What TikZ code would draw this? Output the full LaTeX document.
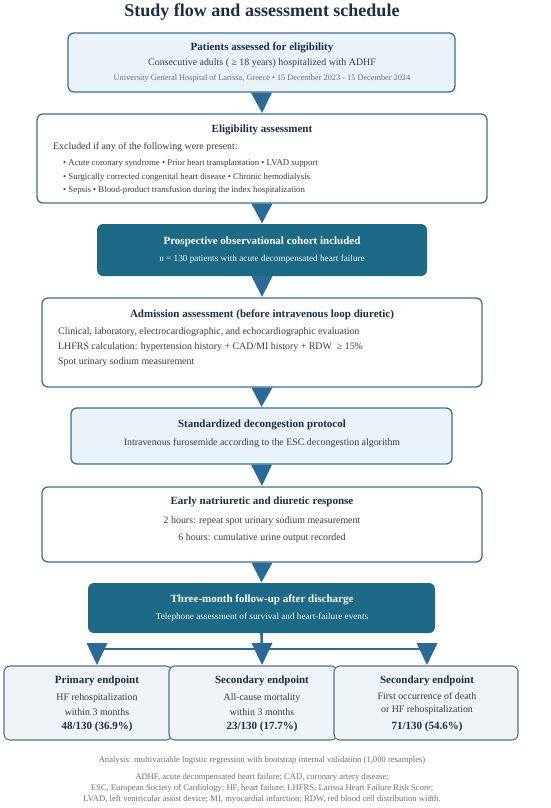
\documentclass[tikz,border=0pt]{standalone}
\usepackage{fontspec}
\setmainfont{Liberation Serif}
\usetikzlibrary{positioning,calc}

\definecolor{navy}{HTML}{1C2E45}
\definecolor{bodygray}{HTML}{3A3D42}
\definecolor{softgray}{HTML}{6A6E74}
\definecolor{edgeblue}{HTML}{3E6F94}
\definecolor{paleblue}{HTML}{EAF3FA}
\definecolor{teal}{HTML}{1D6A86}
\definecolor{tipblue}{HTML}{2B6A96}
\definecolor{endfill}{HTML}{EFF4F8}
\definecolor{endedge}{HTML}{5B7283}

\begin{document}
\begin{tikzpicture}[x=1pt,y=-1pt,
  light box/.style={draw=edgeblue,line width=1.3pt,fill=paleblue,rounded corners=6pt},
  white box/.style={draw=edgeblue,line width=1.3pt,fill=white,rounded corners=6pt},
  dark box/.style={fill=teal,rounded corners=6pt},
  end box/.style={draw=endedge,line width=1.1pt,fill=endfill,rounded corners=6pt},
  head/.style={font=\fontsize{11}{13}\selectfont\bfseries,text=navy,inner sep=0pt},
  dark head/.style={font=\fontsize{11}{13}\selectfont\bfseries,text=white,inner sep=0pt},
  line/.style={font=\fontsize{9.9}{12}\selectfont,text=bodygray,inner sep=0pt},
  small line/.style={font=\fontsize{8.8}{10}\selectfont,text=bodygray,inner sep=0pt},
  dark line/.style={font=\fontsize{9.2}{11}\selectfont,text=white!92!teal,inner sep=0pt},
  note/.style={font=\fontsize{8.6}{10}\selectfont,text=softgray,inner sep=0pt},
  tip/.style={fill=tipblue}]
\useasboundingbox (0,0) rectangle (550,808);

\node[font=\fontsize{18}{22}\selectfont\bfseries,text=navy,inner sep=0pt] (title) at (262,12) {Study flow and assessment schedule};

% boxes
\node[light box,minimum width=387pt,minimum height=59pt] (b1) at (261.5,62.5) {};
\node[white box,minimum width=450pt,minimum height=89pt] (b2) at (262,158.5) {};
\node[dark box,minimum width=330pt,minimum height=52pt] (b3) at (262,250) {};
\node[white box,minimum width=440pt,minimum height=89pt] (b4) at (262,342.5) {};
\node[light box,minimum width=381pt,minimum height=56pt] (b5) at (261.5,436) {};
\node[white box,minimum width=440pt,minimum height=75pt] (b6) at (262,524.5) {};
\node[dark box,minimum width=347pt,minimum height=50pt] (b7) at (261.5,608) {};
\node[end box,minimum width=168pt,minimum height=74pt] (e1) at (88,703) {};
\node[end box,minimum width=168pt,minimum height=74pt] (e2) at (253,703) {};
\node[end box,minimum width=184pt,minimum height=74pt] (e3) at (426,703) {};

% texts
\node[head] (h1) at (262,48) {Patients assessed for eligibility};
\node[line] (l1a) at (262,63) {Consecutive adults ( ≥ 18 years) hospitalized with ADHF};
\node[small line,font=\fontsize{8.3}{10}\selectfont,text=softgray] (l1b) at (262,78) {University General Hospital of Larissa, Greece • 15 December 2023 - 15 December 2024};

\node[head] (h2) at (262,130) {Eligibility assessment};
\node[line,anchor=west] (l2a) at (53,147) {Excluded if any of the following were present:};
\node[small line,anchor=west] (l2b) at (63,163) {• Acute coronary syndrome • Prior heart transplantation • LVAD support};
\node[small line,anchor=west] (l2c) at (63,177) {• Surgically corrected congenital heart disease • Chronic hemodialysis};
\node[small line,anchor=west] (l2d) at (63,190) {• Sepsis • Blood-product transfusion during the index hospitalization};

\node[dark head] (h3) at (262,242) {Prospective observational cohort included};
\node[dark line] (l3a) at (262,259) {n = 130 patients with acute decompensated heart failure};

\node[head] (h4) at (262,315) {Admission assessment (before intravenous loop diuretic)};
\node[line,anchor=west] (l4a) at (58,332) {Clinical, laboratory, electrocardiographic, and echocardiographic evaluation};
\node[line,anchor=west] (l4b) at (58,347) {LHFRS calculation: hypertension history + CAD/MI history + RDW \ ≥ 15\%};
\node[line,anchor=west] (l4c) at (58,362) {Spot urinary sodium measurement};

\node[head] (h5) at (262,425) {Standardized decongestion protocol};
\node[line] (l5a) at (262,443) {Intravenous furosemide according to the ESC decongestion algorithm};

\node[head] (h6) at (262,502) {Early natriuretic and diuretic response};
\node[line] (l6a) at (262,521) {2 hours: repeat spot urinary sodium measurement};
\node[line] (l6b) at (262,538) {6 hours: cumulative urine output recorded};

\node[dark head] (h7) at (262,600) {Three-month follow-up after discharge};
\node[dark line] (l7a) at (262,617) {Telephone assessment of survival and heart-failure events};

\node[head] (eh1) at (97,681) {Primary endpoint};
\node[line] (el1a) at (97,698) {HF rehospitalization};
\node[line] (el1b) at (97,712) {within 3 months};
\node[head] (el1c) at (97,727) {48/130 (36.9\%)};
\node[head] (eh2) at (262,681) {Secondary endpoint};
\node[line] (el2a) at (262,698) {All-cause mortality};
\node[line] (el2b) at (262,712) {within 3 months};
\node[head] (el2c) at (262,727) {23/130 (17.7\%)};
\node[head] (eh3) at (427,681) {Secondary endpoint};
\node[line] (el3a) at (427,696) {First occurrence of death};
\node[line] (el3b) at (427,710) {or HF rehospitalization};
\node[head] (el3c) at (427,727) {71/130 (54.6\%)};

\node[note] (n1) at (262,760) {Analysis: multivariable logistic regression with bootstrap internal validation (1,000 resamples)};
\node[note] (n2) at (262,777) {ADHF, acute decompensated heart failure; CAD, coronary artery disease;};
\node[note] (n3) at (262,788) {ESC, European Society of Cardiology; HF, heart failure; LHFRS, Larissa Heart Failure Risk Score;};
\node[note] (n4) at (262,799) {LVAD, left ventricular assist device; MI, myocardial infarction; RDW, red blood cell distribution width.};

% arrows
\foreach \a/\b in {b1/b2,b2/b3,b3/b4,b4/b5,b5/b6,b6/b7}
  \fill[tip] ([xshift=-10.5pt]\a.south) -- ([xshift=10.5pt]\a.south) -- ($(\b.north)+(0,-0.5)$) -- cycle;

\coordinate (split) at (262,649);
\coordinate (left) at (97,649);
\coordinate (right) at (427,649);
\draw[tipblue,line width=2.6pt] (b7.south) -- (split);
\draw[tipblue,line width=2.6pt] (left) -- (right);
\foreach \x in {97,262,427}
  \fill[tip] (\x-10.5,643) -- (\x+10.5,643) -- (\x,665) -- cycle;
\end{tikzpicture}
\end{document}
